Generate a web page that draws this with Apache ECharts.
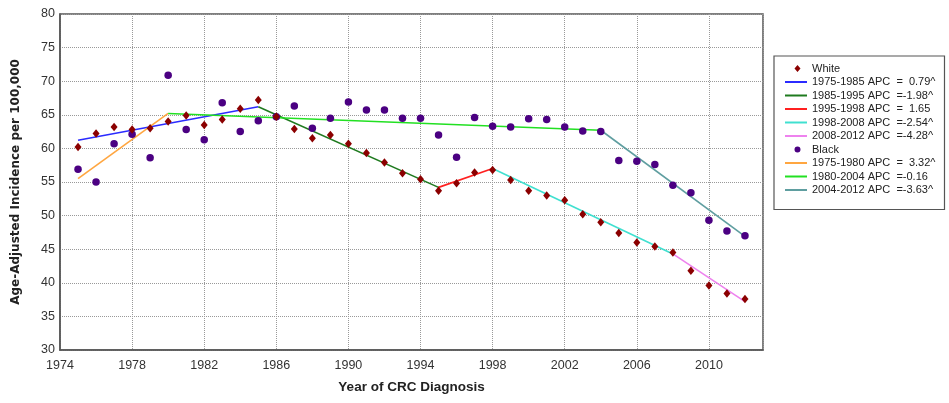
<!DOCTYPE html>
<html>
<head>
<meta charset="utf-8">
<script src="https://cdn.jsdelivr.net/npm/echarts@6/dist/echarts.min.js"></script>
<style>
html,body{margin:0;padding:0;background:#fff;}
#c{width:949px;height:403px;}
</style>
</head>
<body>
<div id="c"></div>
<script>
const years = [1975,1976,1977,1978,1979,1980,1981,1982,1983,1984,1985,1986,1987,1988,1989,1990,1991,1992,1993,1994,1995,1996,1997,1998,1999,2000,2001,2002,2003,2004,2005,2006,2007,2008,2009,2010,2011,2012];
const whiteRates = [60.2,62.2,63.2,62.8,63.0,64.0,64.9,63.5,64.3,65.9,67.2,64.7,62.9,61.5,62.0,60.7,59.3,57.9,56.3,55.4,53.7,54.8,56.4,56.8,55.3,53.7,53.0,52.3,50.2,49.0,47.4,46.0,45.4,44.5,41.8,39.6,38.4,37.6];
const blackRates = [56.9,55.0,60.7,62.1,58.6,70.9,62.8,61.3,66.8,62.5,64.1,64.7,66.3,63.0,64.5,66.9,65.7,65.7,64.5,64.5,62.0,58.7,64.6,63.3,63.2,64.4,64.3,63.2,62.6,62.5,58.2,58.1,57.6,54.5,53.4,49.3,47.7,47.0];

// joinpoint segments: [startYear, endYear], fitted values at the ends
const whiteSegNames = ['1975-1985 APC  =  0.79^','1985-1995 APC  =-1.98^','1995-1998 APC  =  1.65','1998-2008 APC  =-2.54^','2008-2012 APC  =-4.28^'];
const whiteSegYears = [[1975,1985],[1985,1995],[1995,1998],[1998,2008],[2008,2012]];
const whiteSegValues = [[61.2,66.2],[66.2,54.2],[54.2,57.0],[57.0,44.3],[44.3,37.2]];
const whiteSegColors = ['#2b2bff','#1f7a1f','#ff2020','#40e0d0','#ee82ee'];

const blackSegNames = ['1975-1980 APC  =  3.32^','1980-2004 APC  =-0.16','2004-2012 APC  =-3.63^'];
const blackSegYears = [[1975,1980],[1980,2004],[2004,2012]];
const blackSegValues = [[55.5,65.2],[65.2,62.7],[62.7,46.9]];
const blackSegColors = ['#ffa640','#22e022','#5f9ea0'];

const xTicks = {min:1974, max:2013, interval:4};
const yTicks = {min:30, max:80, interval:5};

const series = [];
function addSegs(names, yrs, vals, cols){
  names.forEach((n,i)=>{
    series.push({
      name:n, type:'line', symbol:'none', z:2,
      data:[[yrs[i][0],vals[i][0]],[yrs[i][1],vals[i][1]]],
      itemStyle:{color:cols[i]},
      lineStyle:{color:cols[i], width:1.6}
    });
  });
}
addSegs(whiteSegNames, whiteSegYears, whiteSegValues, whiteSegColors);
addSegs(blackSegNames, blackSegYears, blackSegValues, blackSegColors);
series.push({
  name:'Black', type:'scatter', symbol:'circle', symbolSize:7.5, z:3,
  data: years.map((y,i)=>[y,blackRates[i]]),
  itemStyle:{color:'#4b0082', opacity:1}
});
series.push({
  name:'White', type:'scatter', symbol:'diamond', symbolSize:[7,8.5], z:4,
  data: years.map((y,i)=>[y,whiteRates[i]]),
  itemStyle:{color:'#8b0000', opacity:1}
});

// legend icons padded to the 22x8 legend box so they are not stretched
const diamondIcon = 'path://M0,0L0.01,0M22,8L21.99,8M9.5,4L12.5,0.5L15.5,4L12.5,7.5Z';
const circleIcon = 'path://M0,0L0.01,0M22,8L21.99,8M15.5,4A3,3,0,1,1,15.5,3.99Z';
const lineLegend = n => ({name:n, itemStyle:{color:'rgba(0,0,0,0)', borderColor:'rgba(0,0,0,0)', borderWidth:0, opacity:0}});
const legendData = [{name:'White', icon:diamondIcon}]
  .concat(whiteSegNames.map(lineLegend))
  .concat([{name:'Black', icon:circleIcon}])
  .concat(blackSegNames.map(lineLegend));

const chart = echarts.init(document.getElementById('c'), null, {renderer:'canvas'});
const labelFont = {fontFamily:'Liberation Sans, Arial, sans-serif', fontSize:12.5, color:'#333'};
chart.setOption({
  animation:false,
  grid:{left:60, top:14, right:186, bottom:53, show:true, borderColor:'#555', borderWidth:1.5, containLabel:false},
  xAxis:{
    type:'value', min:xTicks.min, max:xTicks.max, interval:xTicks.interval,
    name:'Year of CRC Diagnosis', nameLocation:'middle', nameGap:30,
    nameTextStyle:{fontFamily:'Liberation Sans, Arial, sans-serif', fontWeight:'bold', fontSize:13.5, color:'#222'},
    axisLine:{show:true, lineStyle:{color:'#555', width:1.5}},
    axisTick:{show:false},
    axisLabel:Object.assign({margin:9, showMaxLabel:false, formatter:v=>String(v)}, labelFont),
    splitLine:{show:true, lineStyle:{type:'dotted', color:'#999', width:1}}
  },
  yAxis:{
    type:'value', min:yTicks.min, max:yTicks.max, interval:yTicks.interval,
    name:'Age-Adjusted Incidence per 100,000', nameLocation:'middle', nameGap:38,
    nameTextStyle:{fontFamily:'DejaVu Sans, Verdana, sans-serif', fontWeight:'bold', fontSize:12, color:'#222'},
    axisLine:{show:true, lineStyle:{color:'#555', width:1.5}},
    axisTick:{show:false},
    axisLabel:Object.assign({margin:5}, labelFont),
    splitLine:{show:true, lineStyle:{type:'dotted', color:'#999', width:1}}
  },
  legend:{
    orient:'vertical', left:774, top:56,
    padding:[7,9,14,10], itemGap:2.5, itemWidth:22, itemHeight:8,
    symbolKeepAspect:true,
    borderColor:'#555', borderWidth:1.2, backgroundColor:'#fff',
    textStyle:{fontFamily:'Liberation Sans, Arial, sans-serif', fontSize:11, color:'#222'},
    selectedMode:false,
    data:legendData
  },
  series:series
});
</script>
</body>
</html>
